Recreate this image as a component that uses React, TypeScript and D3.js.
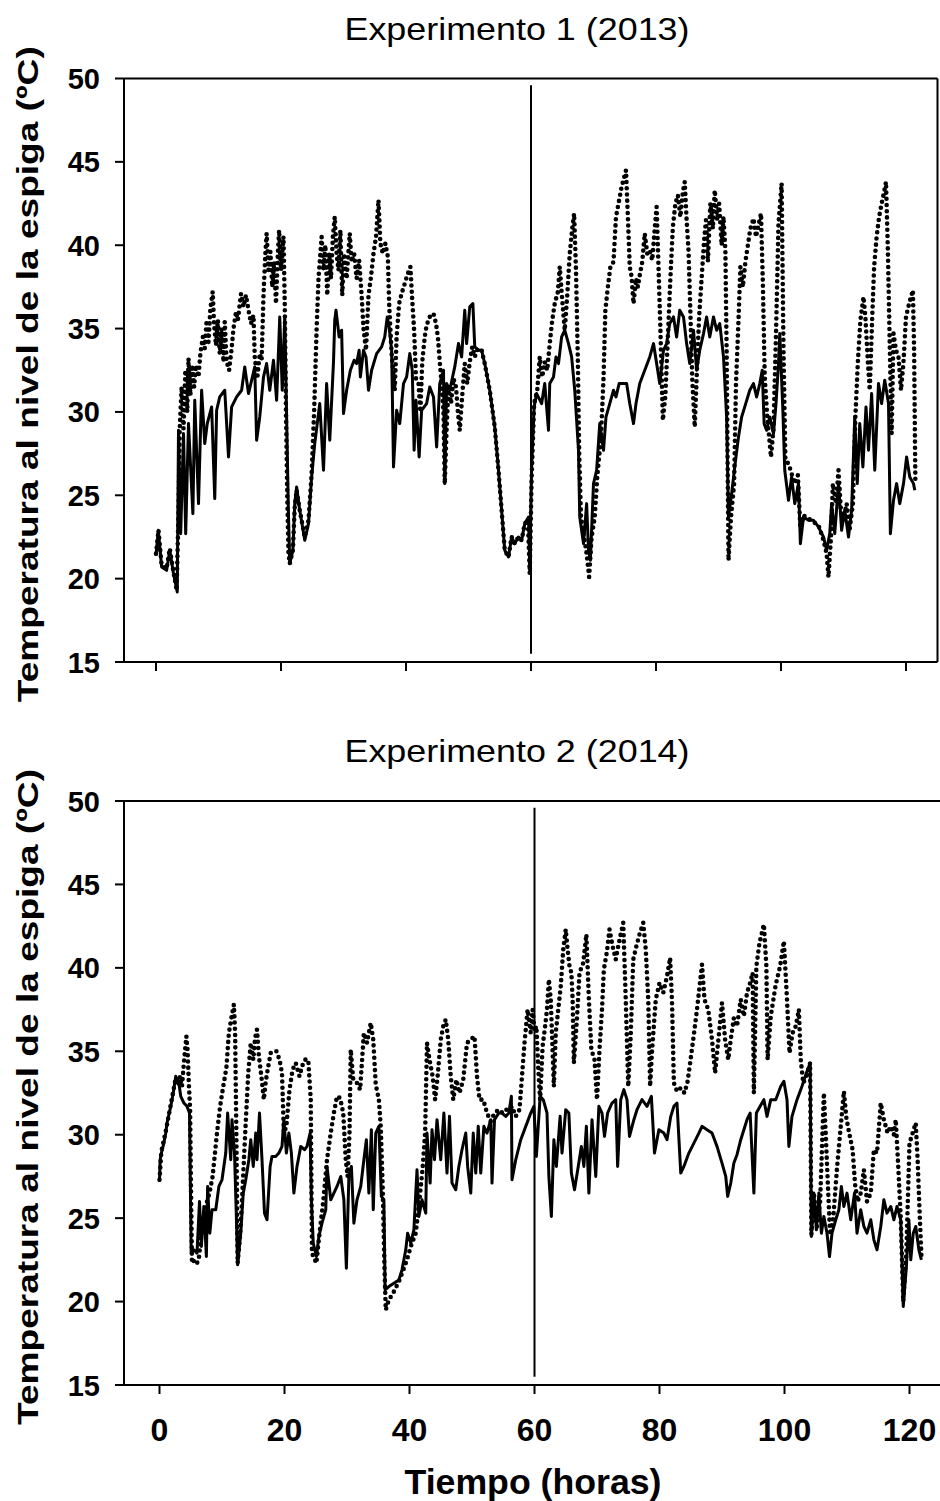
import React from "react";
import * as d3 from "d3";

type Pt = [number, number];

// Experimento 1 (2013): [hora, temperatura ºC]
const exp1Line: Pt[] = [
  [0, 21.4], [0.37, 22.9], [0.9, 20.7], [1.7, 20.5], [2.2, 21.7], [2.8, 20.3], [3.4, 19.2], [3.6, 28.9],
  [3.95, 22.7], [4.4, 28.7], [4.75, 22.7], [5.2, 29.3], [5.9, 23.9], [6.2, 30.7], [6.8, 24.5], [7.3, 31.3],
  [7.8, 28.1], [8.2, 29.3], [8.9, 30.3], [9.4, 24.8], [9.7, 30.1], [10.2, 30.9], [11.0, 31.3], [11.6, 27.3],
  [12.1, 30.3], [12.9, 30.9], [13.7, 31.3], [14.2, 32.7], [14.8, 31.1], [15.3, 31.9], [15.8, 32.7], [16.1, 28.3],
  [16.6, 29.7], [17.2, 32.1], [17.7, 32.9], [18.2, 31.3], [18.8, 33.1], [19.3, 30.7], [19.8, 35.7], [20.2, 31.3],
  [20.6, 35.7], [20.9, 29.7], [21.2, 23.7], [21.4, 20.9], [21.9, 21.7], [22.2, 24.5], [22.5, 25.5], [23.0, 24.1],
  [23.8, 22.3], [24.4, 23.3], [24.9, 26.1], [25.4, 28.1], [26.2, 30.5], [26.8, 26.5], [27.3, 31.7], [27.8, 28.3],
  [28.4, 33.0], [28.6, 35.5], [28.8, 36.1], [29.3, 34.5], [29.7, 34.9], [30.0, 29.9], [30.5, 31.3], [31.1, 32.5],
  [31.7, 33.1], [32.1, 32.9], [32.5, 33.7], [32.7, 32.1], [33.2, 33.7], [33.6, 33.3], [34.0, 31.3], [34.5, 32.5],
  [35.3, 33.5], [36.1, 33.9], [36.6, 34.5], [37.0, 35.7], [37.3, 35.1], [37.7, 33.7], [38.0, 26.7], [38.5, 30.1],
  [39.0, 29.3], [39.6, 31.7], [40.1, 32.1], [40.6, 33.5], [41.0, 32.5], [41.3, 27.7], [41.6, 30.7], [42.1, 27.3],
  [42.5, 30.1], [43.3, 30.5], [43.8, 31.5], [44.4, 30.9], [44.9, 27.9], [45.4, 31.7], [46.0, 32.5], [46.2, 25.7],
  [46.5, 31.7], [47.0, 31.3], [47.8, 32.7], [48.4, 34.1], [48.9, 33.3], [49.4, 36.1], [49.7, 34.1], [50.2, 36.3],
  [50.7, 36.5], [51.0, 33.9], [51.6, 33.7], [52.1, 33.7], [52.6, 32.9], [53.4, 31.3], [54.2, 29.1], [54.8, 26.5],
  [55.3, 24.1], [55.8, 21.7], [56.4, 21.3], [56.9, 22.5], [57.4, 22.1], [58.0, 22.5], [58.5, 22.3], [59.0, 23.3],
  [59.6, 23.7], [59.8, 20.7], [60.1, 26.7], [60.5, 30.3], [60.9, 31.1], [61.7, 30.5], [62.2, 31.7], [62.8, 28.9],
  [63.0, 31.7], [63.6, 32.1], [64.0, 33.3], [64.4, 32.9], [64.9, 34.5], [65.4, 34.9], [66.0, 34.1], [66.5, 33.3],
  [67.0, 31.3], [67.6, 27.7], [67.8, 23.7], [68.4, 22.1], [68.9, 24.5], [69.2, 21.7], [69.5, 21.1], [70.0, 25.7],
  [70.5, 26.5], [71.0, 29.3], [71.6, 27.7], [72.0, 29.7], [72.6, 30.5], [73.2, 31.3], [73.6, 30.9], [74.1, 31.7],
  [74.8, 31.7], [75.3, 31.7], [75.8, 30.5], [76.4, 29.3], [76.8, 30.5], [77.4, 31.7], [78.2, 32.5], [79.0, 33.3],
  [79.6, 34.1], [80.1, 32.9], [80.6, 31.7], [81.2, 33.7], [81.7, 34.1], [82.2, 35.3], [82.8, 35.7], [83.3, 34.5],
  [83.8, 36.1], [84.4, 35.7], [84.9, 34.1], [85.4, 32.9], [86.0, 34.9], [86.5, 32.5], [87.0, 33.7], [87.6, 34.7],
  [88.1, 35.7], [88.6, 34.5], [89.2, 35.7], [89.7, 34.9], [90.2, 35.3], [90.8, 33.3], [91.3, 29.7], [91.6, 23.7],
  [92.1, 25.1], [92.6, 26.7], [93.2, 28.5], [93.7, 29.7], [94.2, 30.3], [95.0, 31.3], [95.6, 31.7], [96.1, 30.9],
  [96.6, 31.7], [97.0, 32.5], [97.3, 29.3], [97.7, 28.9], [98.2, 29.7], [98.8, 28.7], [99.2, 30.5], [99.6, 32.9],
  [99.8, 34.7], [100.3, 30.1], [100.6, 26.5], [101.2, 24.7], [101.7, 26.1], [102.2, 24.5], [102.8, 25.7], [103.1, 22.1],
  [103.6, 23.7], [104.4, 23.5], [105.2, 23.5], [106.0, 23.1], [106.8, 22.5], [107.3, 21.7], [107.8, 22.7], [108.1, 24.5],
  [108.6, 22.7], [109.2, 25.7], [109.7, 22.9], [110.2, 24.1], [110.8, 22.5], [111.3, 24.1], [111.8, 29.7], [112.2, 25.7],
  [112.6, 29.3], [113.1, 26.7], [113.6, 30.3], [114.0, 27.7], [114.5, 31.1], [115.0, 26.5], [115.6, 31.7], [116.1, 30.5],
  [116.6, 31.9], [117.2, 30.5], [117.5, 22.7], [118.0, 24.7], [118.5, 25.7], [119.0, 24.5], [119.6, 25.7], [120.1, 27.3],
  [120.6, 26.1], [121.2, 25.7], [121.4, 25.3],
];

const exp1Dots: Pt[] = [
  [0, 21.5], [0.4, 22.9], [0.9, 20.8], [1.7, 20.6], [2.2, 21.8], [2.8, 20.4], [3.3, 19.3], [3.6, 24.0],
  [3.8, 29.0], [4.1, 31.5], [4.4, 29.0], [4.7, 32.5], [5.0, 30.0], [5.2, 33.2], [5.5, 31.0], [5.8, 32.8],
  [6.1, 31.5], [6.4, 32.8], [6.8, 32.1], [7.1, 33.5], [7.5, 34.5], [7.8, 33.8], [8.1, 35.5], [8.4, 34.2],
  [8.7, 36.2], [9.07, 37.2], [9.3, 35.2], [9.6, 34.0], [9.9, 35.5], [10.2, 33.5], [10.5, 35.0], [10.8, 33.0],
  [11.0, 35.4], [11.3, 33.0], [11.7, 32.5], [12.1, 33.8], [12.4, 35.0], [12.8, 36.0], [13.1, 35.5], [13.6, 37.1],
  [14.0, 36.3], [14.4, 37.0], [14.8, 36.1], [15.2, 35.3], [15.6, 35.8], [15.8, 33.3], [16.2, 32.0], [16.6, 33.5],
  [16.9, 33.1], [17.2, 37.0], [17.5, 39.5], [17.7, 40.7], [18.0, 38.5], [18.3, 39.6], [18.6, 37.5], [18.9, 39.0],
  [19.2, 36.5], [19.5, 39.5], [19.7, 40.9], [20.0, 38.5], [20.4, 40.5], [20.6, 36.5], [20.8, 30.0], [21.0, 25.0],
  [21.2, 21.5], [21.4, 20.9], [21.9, 21.7], [22.2, 24.3], [22.5, 25.3], [23.0, 24.1], [23.8, 22.5], [24.4, 23.5],
  [24.9, 26.3], [25.3, 30.0], [25.7, 35.0], [26.0, 38.0], [26.5, 40.5], [26.8, 38.5], [27.1, 40.0], [27.4, 37.0],
  [27.7, 39.5], [28.0, 38.0], [28.3, 40.5], [28.6, 41.7], [28.9, 39.5], [29.2, 38.5], [29.5, 40.9], [29.8, 37.0],
  [30.1, 39.5], [30.5, 38.0], [31.0, 40.7], [31.3, 39.0], [31.7, 39.5], [32.1, 38.0], [32.5, 39.1], [32.9, 37.0],
  [33.2, 35.0], [33.6, 33.7], [34.0, 37.0], [34.4, 38.1], [34.8, 39.5], [35.2, 40.5], [35.6, 42.7], [35.9, 40.1],
  [36.3, 39.5], [36.7, 40.1], [37.1, 39.3], [37.3, 36.5], [37.7, 33.5], [38.2, 31.3], [38.5, 34.5], [38.9, 36.5],
  [39.3, 37.1], [39.8, 37.7], [40.2, 38.2], [40.7, 38.7], [41.0, 36.7], [41.3, 34.9], [41.6, 32.0], [42.0, 31.7],
  [42.3, 30.0], [42.6, 33.0], [43.0, 34.5], [43.3, 35.2], [43.8, 35.7], [44.4, 35.9], [44.8, 35.3], [45.1, 34.5],
  [45.4, 33.0], [45.7, 31.7], [46.0, 30.0], [46.2, 25.7], [46.5, 29.0], [46.8, 31.5], [47.2, 30.5], [47.6, 32.0],
  [48.0, 31.5], [48.3, 30.0], [48.6, 28.9], [49.0, 31.0], [49.4, 32.9], [49.8, 31.7], [50.2, 33.0], [50.6, 33.9],
  [51.0, 33.3], [51.5, 33.8], [52.1, 33.7], [52.6, 32.9], [53.4, 31.3], [54.2, 29.1], [54.8, 26.5], [55.3, 24.1],
  [55.8, 21.7], [56.4, 21.3], [56.9, 22.5], [57.4, 22.1], [58.0, 22.5], [58.5, 22.3], [59.0, 23.3], [59.5, 23.5],
  [59.8, 20.3], [60.1, 26.0], [60.5, 30.5], [61.0, 31.3], [61.4, 33.3], [61.8, 32.1], [62.2, 33.0], [62.6, 32.5],
  [63.0, 34.1], [63.4, 35.5], [63.8, 36.5], [64.3, 37.2], [64.6, 38.7], [65.0, 36.7], [65.4, 34.9], [65.8, 37.0],
  [66.2, 39.5], [66.6, 41.0], [66.9, 41.9], [67.2, 38.5], [67.5, 33.0], [67.7, 27.7], [68.0, 23.7], [68.5, 22.5],
  [68.9, 21.5], [69.3, 20.1], [69.7, 22.5], [70.2, 23.7], [70.6, 26.1], [71.2, 28.5], [71.6, 32.0], [71.9, 36.1],
  [72.3, 37.5], [72.7, 38.7], [73.2, 39.0], [73.6, 41.7], [74.0, 42.5], [74.5, 43.5], [75.2, 44.5], [75.5, 41.7],
  [75.8, 38.7], [76.1, 38.1], [76.4, 36.5], [76.8, 38.0], [77.1, 37.5], [77.4, 38.2], [77.8, 39.0], [78.2, 40.7],
  [78.6, 39.5], [79.0, 39.7], [79.4, 39.1], [79.8, 41.0], [80.1, 42.3], [80.4, 38.7], [80.7, 35.0], [81.1, 29.5],
  [81.5, 31.0], [81.9, 34.5], [82.3, 38.0], [82.7, 41.1], [83.1, 42.5], [83.5, 43.0], [83.9, 41.7], [84.3, 43.2],
  [84.6, 43.8], [84.9, 41.5], [85.2, 39.7], [85.5, 36.0], [85.8, 32.0], [86.2, 29.1], [86.6, 33.0], [86.9, 35.7],
  [87.3, 38.0], [87.7, 40.3], [88.0, 41.5], [88.3, 39.0], [88.7, 42.5], [89.1, 41.0], [89.4, 43.3], [89.8, 41.5],
  [90.1, 42.5], [90.5, 40.0], [90.8, 41.7], [91.1, 39.7], [91.3, 33.7], [91.6, 21.1], [92.0, 23.7], [92.5, 25.7],
  [92.8, 31.7], [93.2, 35.5], [93.5, 38.7], [93.9, 37.5], [94.3, 39.0], [94.7, 40.0], [95.1, 41.0], [95.6, 41.6],
  [96.0, 40.5], [96.4, 41.2], [96.8, 41.9], [97.1, 37.7], [97.4, 32.1], [97.8, 29.7], [98.1, 28.5], [98.4, 27.3],
  [98.8, 29.0], [99.2, 34.7], [99.6, 41.3], [100.1, 43.7], [100.4, 33.7], [100.7, 27.1], [101.2, 26.9], [101.7, 26.3],
  [102.2, 25.7], [102.7, 26.2], [103.1, 23.0], [103.6, 23.8], [104.4, 23.6], [105.2, 23.4], [106.0, 23.2], [106.8, 22.3],
  [107.3, 21.5], [107.6, 20.1], [108.0, 22.5], [108.3, 25.7], [108.8, 24.5], [109.2, 26.5], [109.6, 24.0], [110.0, 23.5],
  [110.5, 24.5], [111.0, 23.0], [111.5, 24.5], [111.9, 29.7], [112.3, 33.0], [112.7, 35.5], [113.2, 36.9], [113.5, 35.7],
  [113.9, 33.0], [114.2, 31.3], [114.6, 35.7], [114.9, 38.7], [115.3, 40.5], [115.7, 41.7], [116.1, 42.5], [116.5, 43.2],
  [116.8, 43.8], [117.1, 39.7], [117.4, 34.0], [117.7, 28.7], [118.0, 34.7], [118.4, 33.7], [118.8, 33.3], [119.2, 31.3],
  [119.6, 33.0], [120.0, 35.7], [120.5, 36.5], [121.1, 37.3], [121.3, 33.7], [121.5, 25.7],
];

// Experimento 2 (2014): [hora, temperatura ºC]
const exp2Line: Pt[] = [
  [0, 27.2], [0.1, 28.5], [0.3, 28.9], [0.7, 29.5], [1.0, 30.1], [1.2, 30.7], [1.8, 31.7], [2.2, 32.5],
  [2.6, 33.5], [3.1, 33.1], [3.4, 32.3], [3.9, 31.9], [4.4, 31.7], [4.8, 31.3], [5.07, 22.9], [5.5, 23.1],
  [6.0, 22.9], [6.4, 26.0], [6.7, 23.3], [7.1, 25.7], [7.5, 22.7], [7.7, 26.9], [8.05, 24.1], [8.4, 25.5],
  [9.0, 25.5], [9.5, 26.9], [10.0, 27.3], [10.6, 28.9], [10.9, 31.3], [11.4, 28.5], [11.6, 30.9], [12.0, 28.9],
  [12.3, 25.1], [12.5, 22.2], [13.0, 24.1], [13.4, 26.5], [13.8, 27.3], [14.3, 28.5], [14.6, 29.7], [15.0, 28.1],
  [15.4, 30.1], [15.6, 28.5], [16.0, 31.3], [16.4, 28.5], [16.8, 25.3], [17.2, 24.9], [17.7, 28.1], [18.0, 28.7],
  [18.6, 28.7], [19.1, 28.9], [19.6, 29.3], [19.9, 30.9], [20.3, 28.9], [20.7, 30.1], [21.1, 28.9], [21.5, 26.5],
  [22.0, 28.1], [22.6, 29.3], [23.2, 29.1], [23.6, 29.3], [24.1, 30.1], [24.3, 26.1], [24.6, 23.5], [25.1, 22.7],
  [25.5, 23.9], [26.0, 24.7], [26.6, 25.5], [26.8, 28.1], [27.4, 26.1], [27.9, 26.5], [28.4, 26.9], [29.0, 27.5],
  [29.5, 26.1], [29.9, 22.0], [30.3, 27.5], [30.7, 28.1], [31.1, 24.7], [31.6, 26.1], [32.2, 26.9], [32.7, 28.5],
  [33.1, 29.7], [33.5, 26.5], [33.9, 30.3], [34.2, 25.5], [34.6, 30.1], [35.1, 30.5], [35.5, 26.3], [35.9, 26.1],
  [36.1, 20.7], [36.7, 20.9], [37.5, 21.1], [38.3, 21.3], [38.8, 21.9], [39.4, 23.1], [39.7, 24.1], [40.2, 23.5],
  [40.7, 24.3], [41.2, 27.9], [41.5, 25.1], [42.0, 26.1], [42.6, 25.3], [42.8, 30.1], [43.3, 27.1], [43.6, 30.3],
  [44.0, 28.5], [44.4, 30.9], [45.0, 28.5], [45.5, 31.3], [46.0, 27.7], [46.4, 31.1], [46.8, 27.1], [47.4, 26.7],
  [47.9, 28.1], [48.4, 29.1], [49.0, 30.1], [49.3, 28.1], [49.8, 26.5], [50.2, 30.1], [50.6, 27.7], [51.0, 30.5],
  [51.4, 27.7], [51.9, 30.5], [52.4, 30.1], [53.0, 30.9], [53.2, 27.1], [53.6, 30.9], [54.3, 31.3], [54.8, 31.3],
  [55.4, 31.1], [55.9, 31.3], [56.3, 32.3], [56.4, 27.3], [57.0, 28.5], [57.8, 29.7], [58.6, 30.5], [59.4, 31.3],
  [59.9, 31.7], [60.3, 28.7], [60.9, 32.3], [61.4, 32.1], [62.0, 31.3], [62.3, 27.5], [62.7, 25.1], [63.1, 29.7],
  [63.5, 28.1], [64.1, 31.1], [64.4, 28.9], [65.0, 31.5], [65.5, 31.3], [65.9, 27.7], [66.4, 26.7], [67.0, 28.1],
  [67.5, 29.3], [67.9, 28.1], [68.3, 30.5], [68.7, 26.5], [69.2, 30.9], [69.8, 27.5], [70.3, 31.7], [70.8, 31.3],
  [71.2, 29.9], [71.7, 31.3], [72.4, 31.9], [73.0, 32.1], [73.3, 28.1], [73.8, 32.1], [74.3, 32.7], [74.8, 32.1],
  [75.2, 29.9], [75.9, 30.9], [76.4, 31.5], [77.2, 32.1], [78.0, 31.7], [78.7, 32.3], [79.2, 28.9], [79.9, 30.3],
  [80.7, 30.1], [81.2, 29.7], [81.8, 31.1], [82.3, 31.7], [82.8, 31.9], [83.4, 27.7], [83.9, 28.1], [84.7, 28.9],
  [85.5, 29.5], [86.3, 30.1], [86.8, 30.5], [87.6, 30.3], [88.4, 30.1], [89.2, 29.3], [90.0, 28.3], [90.6, 27.5],
  [90.9, 26.3], [91.4, 27.1], [91.9, 28.3], [92.4, 28.8], [93.0, 29.7], [93.5, 30.3], [94.0, 30.9], [94.5, 31.3],
  [94.8, 28.9], [95.1, 26.5], [95.5, 31.3], [96.1, 31.7], [96.7, 32.1], [97.2, 31.1], [97.8, 32.1], [98.6, 32.1],
  [99.4, 32.9], [99.9, 33.2], [100.4, 32.1], [100.7, 29.3], [101.2, 31.1], [102.0, 32.1], [102.8, 32.9], [103.5, 33.7],
  [104.1, 34.3], [104.3, 23.9], [104.7, 26.5], [105.1, 24.3], [105.5, 26.5], [105.9, 24.1], [106.3, 25.1], [106.8, 24.1],
  [107.2, 22.7], [107.6, 24.1], [108.2, 24.9], [108.7, 25.5], [109.1, 26.9], [109.5, 25.7], [110.0, 26.5], [110.6, 24.9],
  [111.2, 26.5], [111.6, 24.1], [112.2, 25.5], [112.7, 24.5], [113.2, 24.1], [113.8, 24.9], [114.3, 23.7], [114.8, 23.1],
  [115.4, 24.5], [115.9, 26.1], [116.4, 25.3], [117.0, 25.7], [117.5, 24.9], [118.0, 25.7], [118.6, 24.9], [119.0, 19.7],
  [119.5, 22.1], [119.9, 24.9], [120.2, 22.5], [120.6, 24.1], [121.0, 24.5], [121.5, 23.1], [121.9, 22.5],
];

const exp2Dots: Pt[] = [
  [0, 27.3], [0.3, 29.0], [1.0, 30.2], [1.8, 31.8], [2.6, 33.4], [3.0, 33.0], [3.3, 33.5], [3.6, 32.9],
  [3.9, 34.3], [4.1, 35.1], [4.3, 35.9], [4.5, 35.0], [4.7, 33.0], [4.9, 31.5], [5.0, 28.0], [5.2, 22.3],
  [5.6, 22.5], [6.0, 22.3], [6.3, 22.6], [6.7, 24.0], [7.1, 25.0], [7.6, 26.0], [8.0, 26.5], [8.5, 27.5],
  [9.2, 30.1], [9.7, 31.7], [10.2, 32.9], [10.7, 34.0], [11.1, 36.1], [11.5, 37.0], [11.9, 37.8], [12.1, 36.1],
  [12.3, 30.0], [12.5, 22.3], [12.9, 24.0], [13.2, 26.1], [13.7, 30.0], [14.2, 33.7], [14.6, 35.5], [15.0, 34.5],
  [15.3, 35.8], [15.6, 36.3], [15.9, 34.7], [16.3, 33.5], [16.7, 32.1], [17.0, 33.2], [17.4, 34.1], [17.8, 34.9],
  [18.2, 35.0], [18.7, 35.0], [19.2, 34.5], [19.6, 33.7], [19.9, 30.1], [20.3, 30.5], [20.8, 32.7], [21.3, 33.9],
  [21.8, 34.3], [22.4, 33.5], [22.8, 34.1], [23.3, 34.5], [23.8, 34.5], [24.2, 32.1], [24.4, 22.9], [25.1, 22.3],
  [25.6, 24.1], [26.2, 26.0], [26.8, 28.5], [27.4, 30.1], [27.9, 31.3], [28.4, 32.3], [28.9, 32.2], [29.4, 31.3],
  [29.8, 28.5], [30.1, 27.5], [30.4, 30.1], [30.6, 35.1], [31.0, 33.3], [31.6, 33.1], [32.1, 32.7], [32.7, 36.1],
  [33.2, 35.5], [33.8, 36.7], [34.2, 35.7], [34.6, 33.0], [35.1, 32.1], [35.4, 30.5], [35.7, 27.0], [36.0, 22.0],
  [36.2, 19.5], [36.7, 20.1], [37.5, 20.6], [38.3, 21.2], [38.8, 21.7], [39.6, 22.5], [40.2, 23.3], [41.0, 24.1],
  [41.6, 26.1], [42.1, 28.0], [42.5, 30.1], [42.8, 35.5], [43.2, 34.5], [43.7, 33.5], [44.1, 32.1], [44.5, 33.5],
  [45.0, 35.7], [45.4, 36.5], [45.8, 36.9], [46.2, 35.7], [46.6, 33.5], [47.0, 32.1], [47.5, 33.3], [48.0, 32.5],
  [48.6, 33.3], [49.2, 35.5], [49.8, 35.7], [50.4, 35.9], [50.8, 33.5], [51.2, 32.1], [51.8, 32.1], [52.4, 31.3],
  [53.0, 30.8], [53.6, 31.3], [54.3, 31.5], [54.9, 31.3], [55.5, 31.5], [56.0, 31.5], [56.4, 31.7], [57.0, 31.1],
  [57.6, 31.5], [58.0, 33.5], [58.4, 35.5], [58.9, 37.5], [59.4, 36.1], [59.7, 37.5], [60.0, 36.2], [60.3, 36.5],
  [60.6, 34.0], [60.9, 32.1], [61.3, 35.3], [61.7, 36.5], [62.0, 37.5], [62.3, 39.3], [62.6, 38.1], [62.9, 35.0],
  [63.1, 32.9], [63.4, 36.1], [63.8, 37.5], [64.2, 38.9], [64.6, 41.1], [65.0, 42.3], [65.3, 41.1], [65.6, 40.1],
  [65.9, 39.7], [66.1, 38.1], [66.3, 34.3], [66.8, 37.0], [67.2, 39.7], [67.8, 40.3], [68.3, 42.0], [68.7, 38.1],
  [69.1, 35.1], [69.6, 34.5], [70.0, 32.1], [70.4, 35.1], [70.8, 37.5], [71.1, 39.9], [71.6, 41.0], [72.0, 42.3],
  [72.5, 41.3], [73.0, 40.5], [73.5, 41.5], [74.2, 42.7], [74.6, 38.1], [75.0, 32.9], [75.4, 36.0], [75.8, 40.5],
  [76.3, 41.3], [76.8, 42.0], [77.4, 42.7], [77.8, 41.1], [78.2, 38.1], [78.5, 32.9], [78.8, 35.0], [79.4, 38.1],
  [80.0, 39.1], [80.6, 38.5], [81.2, 39.5], [81.7, 40.6], [82.0, 38.0], [82.3, 33.1], [82.8, 32.6], [83.4, 32.8],
  [84.0, 32.5], [84.5, 33.2], [84.9, 34.3], [85.5, 36.0], [86.0, 37.5], [86.8, 40.2], [87.2, 38.1], [87.8, 37.5],
  [88.4, 35.7], [88.9, 33.7], [89.5, 36.0], [90.0, 37.9], [90.5, 35.7], [91.0, 34.5], [91.4, 35.7], [91.9, 37.0],
  [92.4, 36.5], [93.0, 38.1], [93.5, 37.1], [94.0, 38.5], [94.5, 39.1], [94.9, 39.7], [95.1, 32.5], [95.5, 40.1],
  [96.0, 41.5], [96.7, 42.6], [97.1, 40.1], [97.3, 34.5], [97.8, 37.1], [98.6, 39.0], [99.3, 40.1], [99.9, 41.6],
  [100.4, 38.1], [100.8, 34.9], [101.3, 36.1], [101.8, 36.5], [102.3, 37.5], [102.6, 34.5], [103.0, 33.1], [103.5, 33.5],
  [104.1, 34.3], [104.3, 24.0], [104.7, 26.5], [105.2, 24.5], [105.7, 26.0], [106.3, 32.5], [106.6, 30.0], [107.0, 26.5],
  [107.3, 24.0], [107.8, 25.0], [108.4, 28.0], [109.0, 30.5], [109.5, 32.6], [109.9, 31.0], [110.4, 30.0], [110.9, 29.1],
  [111.3, 27.0], [111.7, 26.0], [112.2, 26.5], [112.7, 27.9], [113.2, 26.0], [113.8, 26.5], [114.3, 29.1], [114.8, 28.9],
  [115.4, 31.9], [115.9, 30.9], [116.5, 30.1], [117.0, 30.5], [117.5, 30.0], [117.8, 30.9], [118.2, 28.1], [118.6, 25.0],
  [119.0, 20.0], [119.5, 23.0], [120.0, 29.5], [120.5, 30.1], [121.0, 30.7], [121.3, 28.5], [121.6, 25.5], [121.9, 22.8],
];

const xTicks = [0, 20, 40, 60, 80, 100, 120];
const yTicks = [15, 20, 25, 30, 35, 40, 45, 50];
const yDomain: [number, number] = [15, 50];
const refHour = 60;

const panels = [
  { title: "Experimento 1 (2013)", line: exp1Line, dots: exp1Dots, top: 78.5, bottom: 662, x0: 156, right: 937.5, rightBorder: true, xLabels: false },
  { title: "Experimento 2 (2014)", line: exp2Line, dots: exp2Dots, top: 801, bottom: 1385, x0: 159.5, right: 941, rightBorder: false, xLabels: true },
];

const FONT = "'Liberation Sans', Arial, Helvetica, sans-serif";
const LEFT = 124;

function Panel({ p }: { p: (typeof panels)[number] }) {
  const x = d3.scaleLinear().domain([0, 120]).range([p.x0, p.x0 + 750]);
  const y = d3.scaleLinear().domain(yDomain).range([p.bottom, p.top]);
  const line = d3.line<Pt>().x((d) => x(d[0])).y((d) => y(d[1]));
  const cy = (p.top + p.bottom) / 2;
  return (
    <g>
      <text x={517} y={p.top - 39} textAnchor="middle" fontFamily={FONT} fontSize={32} textLength={345} lengthAdjust="spacingAndGlyphs">
        {p.title}
      </text>
      <text
        transform={`translate(38,${cy + 4}) rotate(-90)`}
        textAnchor="middle"
        fontFamily={FONT}
        fontSize={30}
        fontWeight="bold"
        textLength={656}
        lengthAdjust="spacingAndGlyphs"
      >
        Temperatura al nivel de la espiga (ºC)
      </text>
      {/* marco */}
      <line x1={LEFT} x2={LEFT} y1={p.top} y2={p.bottom} stroke="#000" strokeWidth={2} />
      <line x1={LEFT} x2={p.right} y1={p.bottom} y2={p.bottom} stroke="#000" strokeWidth={2} />
      <line x1={LEFT} x2={p.right} y1={p.top} y2={p.top} stroke="#000" strokeWidth={2} />
      {p.rightBorder && <line x1={p.right} x2={p.right} y1={p.top} y2={p.bottom} stroke="#000" strokeWidth={2} />}
      {yTicks.map((t) => (
        <g key={t}>
          <line x1={LEFT - 9} x2={LEFT} y1={y(t)} y2={y(t)} stroke="#000" strokeWidth={2} />
          <text x={100} y={y(t) + 10.5} textAnchor="end" fontFamily={FONT} fontSize={29} fontWeight="bold">
            {t}
          </text>
        </g>
      ))}
      {xTicks.map((t) => (
        <g key={t}>
          <line x1={x(t)} x2={x(t)} y1={p.bottom} y2={p.bottom + 9} stroke="#000" strokeWidth={2} />
          {p.xLabels && (
            <text x={x(t)} y={p.bottom + 56} textAnchor="middle" fontFamily={FONT} fontSize={32} fontWeight="bold">
              {t}
            </text>
          )}
        </g>
      ))}
      <line x1={x(refHour)} x2={x(refHour)} y1={y(49.6)} y2={y(15.5)} stroke="#000" strokeWidth={2} />
      <path d={line(p.line) ?? ""} fill="none" stroke="#000" strokeWidth={3} strokeLinejoin="round" />
      <path
        d={line(p.dots) ?? ""}
        fill="none"
        stroke="#000"
        strokeWidth={4.6}
        strokeLinecap="round"
        strokeDasharray="0 6.2"
      />
    </g>
  );
}

export default function App() {
  return (
    <svg width={940} height={1501} style={{ position: "absolute", left: 0, top: 0, background: "#fff" }}>
      <rect width={940} height={1501} fill="#fff" />
      {panels.map((p) => (
        <Panel key={p.title} p={p} />
      ))}
      <text x={533} y={1494} textAnchor="middle" fontFamily={FONT} fontSize={35} fontWeight="bold" textLength={257} lengthAdjust="spacingAndGlyphs">
        Tiempo (horas)
      </text>
    </svg>
  );
}
